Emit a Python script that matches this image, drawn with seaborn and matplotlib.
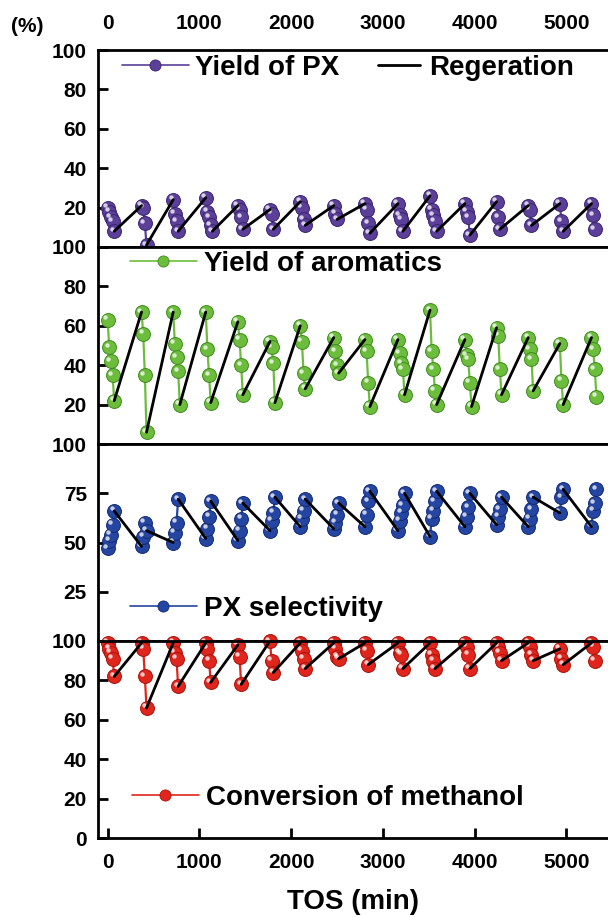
import matplotlib
matplotlib.use('Agg')
import matplotlib.pyplot as plt
import matplotlib.transforms as mtransforms
from matplotlib.lines import Line2D
import seaborn as sns
import pandas as pd

# TOS (min) at the start of each reaction cycle, and sampling offsets inside a cycle
cycle_start = [0, 370, 715, 1070, 1420, 1770, 2100, 2465, 2805, 3165, 3515, 3895, 4240, 4585, 4930, 5275]
sample_offset = [0, 18, 36, 54, 72]

# values (%) read per cycle
px_yield = [[20, 18, 15, 13, 8], [21, 20, 12, 1], [24, 17, 13, 8], [25, 18, 15, 11, 8],
            [21, 19, 15, 9], [19, 17, 9], [23, 20, 14, 11], [21, 17, 14],
            [22, 19, 12, 7], [22, 16, 14, 8], [26, 19, 16, 13, 8], [22, 18, 15, 6],
            [23, 15, 9], [21, 19, 11], [22, 13, 8], [22, 16, 9]]
arom_yield = [[63, 49, 42, 35, 22], [67, 56, 35, 6], [67, 51, 44, 37, 20], [67, 48, 35, 21],
              [62, 53, 40, 25], [52, 49, 41, 21], [60, 52, 36, 28], [54, 47, 40, 36],
              [53, 47, 31, 19], [53, 46, 41, 38, 25], [68, 47, 38, 27, 20], [53, 45, 43, 31, 19],
              [59, 55, 38, 25], [54, 48, 43, 27], [51, 32, 20], [54, 48, 38, 24]]
px_select = [[47, 51, 54, 59, 66], [48, 53, 60, 56], [50, 55, 60, 72], [52, 57, 63, 71],
             [51, 56, 62, 70], [56, 61, 65, 73], [58, 62, 66, 72], [57, 60, 64, 70],
             [58, 64, 71, 76], [56, 61, 65, 69, 75], [53, 62, 66, 71, 76], [58, 63, 68, 75],
             [59, 63, 67, 73], [58, 62, 67, 73], [65, 73, 77], [58, 66, 70, 77]]
meoh_conv = [[99, 96, 94, 91, 82], [99, 96, 82, 66], [99, 94, 91, 77], [99, 96, 90, 79],
             [98, 92, 78], [100, 90, 84], [99, 95, 91, 86], [99, 96, 92, 91],
             [99, 95, 88], [99, 94, 93, 86], [99, 93, 90, 86], [99, 97, 93, 86],
             [99, 97, 94, 90], [99, 97, 93, 90], [96, 91, 88], [99, 97, 90]]

labels = ['Yield of PX', 'Yield of aromatics', 'PX selectivity', 'Conversion of methanol']
colors = ['#5b3f98', '#6cbd3c', '#2445a2', '#e0261c']
edges = ['#3a2470', '#3f8a1e', '#142a72', '#a8120c']
yticks = [[20, 40, 60, 80, 100], [20, 40, 60, 80, 100], [25, 50, 75, 100], [0, 20, 40, 60, 80, 100]]
# legend placement (axes fraction): x of handle start, y of centre
leg_pos = [(0.047, 0.909), (0.063, 0.915), (0.063, 0.164), (0.067, 0.204)]


def to_frames(series):
    rows = []
    for c, vals in enumerate(series):
        for off, v in zip(sample_offset, vals):
            rows.append({'tos': cycle_start[c] + off, 'value': v, 'cycle': c})
    df = pd.DataFrame(rows)
    # regeneration: last point of a cycle -> first point of the next cycle
    seg = []
    for c in range(len(series) - 1):
        a = df[df.cycle == c].iloc[-1]
        b = df[df.cycle == c + 1].iloc[0]
        seg.append({'tos': a.tos, 'value': a.value, 'seg': c})
        seg.append({'tos': b.tos, 'value': b.value, 'seg': c})
    return df, pd.DataFrame(seg)


sns.set_theme(style='ticks')
plt.rcParams['font.family'] = ['Liberation Sans', 'DejaVu Sans']
plt.rcParams['font.weight'] = 'bold'
plt.rcParams['text.color'] = 'black'
plt.rcParams['axes.labelcolor'] = 'black'
plt.rcParams['axes.edgecolor'] = 'black'
plt.rcParams['xtick.color'] = 'black'
plt.rcParams['ytick.color'] = 'black'

fig = plt.figure(figsize=(6.08, 9.17), dpi=100)
axes = fig.subplots(4, 1, sharex=True, gridspec_kw=dict(hspace=0))
fig.subplots_adjust(left=0.161, right=1.0, top=1 - 50 / 917, bottom=1 - 838 / 917)

for i, (ax, series) in enumerate(zip(axes, [px_yield, arom_yield, px_select, meoh_conv])):
    df, regen = to_frames(series)
    sns.lineplot(data=df, x='tos', y='value', units='cycle', estimator=None, sort=False,
                 color=colors[i], lw=1.6, ax=ax, legend=False, zorder=2)
    sns.scatterplot(data=df, x='tos', y='value', color=colors[i], s=100, edgecolor=edges[i],
                    linewidth=0.7, ax=ax, legend=False, zorder=3, clip_on=False)
    hl = mtransforms.offset_copy(ax.transData, fig=fig, x=-2.5, y=2.5, units='dots')
    ax.scatter(df.tos, df.value, s=10, color='white', alpha=0.75, lw=0, transform=hl,
               zorder=4, clip_on=False)
    sns.lineplot(data=regen, x='tos', y='value', units='seg', estimator=None, sort=False,
                 color='black', lw=2, ax=ax, legend=False, zorder=5)

    ax.set_ylim(0, 100)
    ax.set_yticks(yticks[i])
    ax.set_ylabel('')
    ax.set_xlabel('')
    ax.spines['right'].set_visible(False)
    for s in ['left', 'top', 'bottom']:
        ax.spines[s].set_linewidth(2)
        ax.spines[s].set_color('black')
        ax.spines[s].set_zorder(6)
    ax.tick_params(axis='y', direction='in', length=7, width=2, pad=8, labelsize=15,
                   colors='black')
    for t in ax.get_yticklabels():
        t.set_fontweight('bold')

    h = Line2D([], [], color=colors[i], lw=1.2, marker='o', ms=8,
               mfc=colors[i], mec=edges[i], mew=0.6)
    leg = ax.legend([h], [labels[i]], loc='center left', bbox_to_anchor=leg_pos[i],
                    frameon=False, prop={'weight': 'bold', 'size': 20},
                    handlelength=2.4, handletextpad=0.25, borderpad=0, borderaxespad=0)
    if i == 0:
        ax.add_artist(leg)
        hr = Line2D([], [], color='black', lw=2)
        ax.legend([hr], ['Regeration'], loc='center left',
                  bbox_to_anchor=((378 - 98) / 510, leg_pos[0][1]), frameon=False,
                  prop={'weight': 'bold', 'size': 20}, handlelength=1.5,
                  handletextpad=0.35, borderpad=0, borderaxespad=0)

ax_top, ax_bot = axes[0], axes[-1]
ax_bot.set_xlim(-106, 5455)
ax_bot.set_xticks([0, 1000, 2000, 3000, 4000, 5000])
for ax in axes[1:3]:
    ax.tick_params(axis='x', bottom=False, top=False, labelbottom=False)
ax_top.tick_params(axis='x', bottom=False, top=True, labeltop=True, labelbottom=False,
                   length=0, pad=12, labelsize=15, colors='black')
ax_bot.tick_params(axis='x', direction='in', length=7, width=2, pad=11, labelsize=15,
                   colors='black', top=False)
for ax in [ax_top, ax_bot]:
    for t in ax.get_xticklabels():
        t.set_fontweight('bold')

ax_bot.set_xlabel('TOS (min)', fontsize=20, fontweight='bold', labelpad=12, color='black')
fig.text(27 / 608, 1 - 27 / 917, '(%)', fontsize=15, fontweight='bold', ha='center',
         va='center', color='black')

fig.savefig('out.png', dpi=100)
